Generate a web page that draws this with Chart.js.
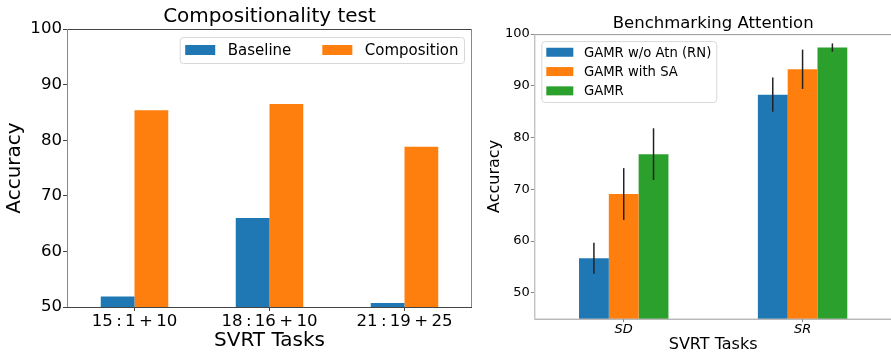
<!DOCTYPE html>
<html>
<head>
<meta charset="utf-8">
<script src="https://cdn.jsdelivr.net/npm/chart.js@4"></script>
<style>
  html, body { margin: 0; padding: 0; background: #fff; overflow: hidden; }
  body { width: 891px; height: 352px; position: relative; }
  #left_wrap { position: absolute; left: 0; top: 0; width: 480px; height: 365px; }
  #right_wrap { position: absolute; left: 480px; top: 0; width: 420px; height: 365px; }
</style>
</head>
<body>
<div id="left_wrap"><canvas id="chart_composition"></canvas></div>
<div id="right_wrap"><canvas id="chart_attention"></canvas></div>
<script>
// left chart data
var comp_tasks = ["15\u2009:\u20091\u2009+\u200910", "18\u2009:\u200916\u2009+\u200910", "21\u2009:\u200919\u2009+\u200925"];
var comp_baseline = [51.9, 66.0, 50.7];
var comp_composition = [85.4, 86.5, 78.8];
var comp_y_ticks = [50, 60, 70, 80, 90, 100];

// right chart data
var attn_tasks = ["SD", "SR"];
var attn_no_atn = [56.7, 88.3];
var attn_no_atn_err = [3.0, 3.3];
var attn_with_sa = [69.1, 93.2];
var attn_with_sa_err = [5.0, 3.8];
var attn_gamr = [76.8, 97.4];
var attn_gamr_err = [5.0, 0.8];
var attn_y_ticks = [50, 60, 70, 80, 90, 100];

var FONT = "'DejaVu Sans', sans-serif";
var C_BLUE = "#1f77b4", C_ORANGE = "#ff7f0e", C_GREEN = "#2ca02c";

Chart.defaults.font.family = FONT;
Chart.defaults.color = "#000";
Chart.defaults.animation = false;

// frame around the plot area
var frame_plugin = {
    id: 'frame',
    afterDatasetsDraw: function (chart, args, opts) {
        var a = chart.chartArea, ctx = chart.ctx;
        ctx.save();
        ctx.lineWidth = 1;
        ctx.strokeStyle = opts.hColor;
        ctx.beginPath();
        ctx.moveTo(a.left, a.top + 0.5); ctx.lineTo(a.right, a.top + 0.5);
        ctx.moveTo(a.left, a.bottom + 0.5); ctx.lineTo(a.right, a.bottom + 0.5);
        ctx.stroke();
        ctx.strokeStyle = opts.vColor;
        ctx.beginPath();
        ctx.moveTo(a.left + 0.5, a.top); ctx.lineTo(a.left + 0.5, a.bottom);
        ctx.moveTo(a.right - 0.5, a.top); ctx.lineTo(a.right - 0.5, a.bottom);
        ctx.stroke();
        ctx.restore();
    }
};

// vertical error bars, from dataset.errors
var errorbar_plugin = {
    id: 'errorbars',
    afterDatasetsDraw: function (chart) {
        var ctx = chart.ctx, y = chart.scales.y;
        ctx.save();
        ctx.strokeStyle = "#222";
        ctx.lineWidth = 1.5;
        chart.data.datasets.forEach(function (ds, i) {
            if (!ds.errors) return;
            chart.getDatasetMeta(i).data.forEach(function (bar, j) {
                var v = ds.data[j], e = ds.errors[j];
                ctx.beginPath();
                ctx.moveTo(bar.x, y.getPixelForValue(v - e));
                ctx.lineTo(bar.x, y.getPixelForValue(v + e));
                ctx.stroke();
            });
        });
        ctx.restore();
    }
};

// matplotlib-like legend inside the axes
var box_legend_plugin = {
    id: 'boxLegend',
    afterDraw: function (chart, args, o) {
        var ctx = chart.ctx, a = chart.chartArea, ds = chart.data.datasets;
        ctx.save();
        ctx.font = o.fontSize + "px " + FONT;
        var widths = ds.map(function (d) { return ctx.measureText(d.label).width; });
        var n = ds.length, w, h;
        if (o.cols > 1) {
            w = o.padX * 2 + widths.reduce(function (s, tw) { return s + o.handleW + o.textPad + tw; }, 0) + o.colGap * (n - 1);
            h = o.padY * 2 + o.rowH;
        } else {
            w = o.padX * 2 + o.handleW + o.textPad + Math.max.apply(null, widths);
            h = o.padY * 2 + o.rowH * n;
        }
        var bx = o.corner === 'ur' ? a.right - o.margin - w : a.left + o.margin;
        var by = a.top + o.margin;
        ctx.fillStyle = "rgba(255,255,255,0.8)";
        ctx.strokeStyle = "#d8d8d8";
        ctx.lineWidth = 1;
        ctx.beginPath();
        ctx.roundRect(bx + 0.5, by + 0.5, w, h, 3);
        ctx.fill();
        ctx.stroke();
        ctx.textBaseline = "middle";
        ctx.textAlign = "left";
        var x = bx + o.padX, yy = by + o.padY + o.rowH / 2;
        ds.forEach(function (d, i) {
            ctx.fillStyle = d.backgroundColor;
            ctx.fillRect(x, yy - o.handleH / 2, o.handleW, o.handleH);
            ctx.fillStyle = "#000";
            ctx.fillText(d.label, x + o.handleW + o.textPad, yy + 1);
            if (o.cols > 1) {
                x += o.handleW + o.textPad + widths[i] + o.colGap;
            } else {
                yy += o.rowH;
            }
        });
        ctx.restore();
    }
};

function fixed_ticks(values) {
    return function (scale) {
        scale.ticks = values.map(function (v) { return { value: v }; });
    };
}

function init_chart_composition() {
    var settings = {
        type: 'bar',
        data: {
            labels: comp_tasks,
            datasets: [
                { label: "Baseline", data: comp_baseline, backgroundColor: C_BLUE },
                { label: "Composition", data: comp_composition, backgroundColor: C_ORANGE }
            ]
        },
        options: {
            responsive: true,
            maintainAspectRatio: false,
            layout: { padding: { left: 0, right: 8, top: 0, bottom: 0 } },
            datasets: { bar: { categoryPercentage: 0.5, barPercentage: 1.0 } },
            plugins: {
                legend: { display: false },
                tooltip: { enabled: false },
                title: {
                    display: true,
                    fullSize: false,
                    text: "Compositionality test",
                    font: { size: 20, weight: 'normal' },
                    color: "#000",
                    padding: { top: 5, bottom: 0 }
                },
                frame: { hColor: "#444", vColor: "#888" },
                boxLegend: {
                    corner: 'ur', cols: 2, fontSize: 15, margin: 8,
                    padX: 5.5, padY: 8, rowH: 10, handleW: 30, handleH: 10,
                    textPad: 12.5, colGap: 31
                }
            },
            scales: {
                x: {
                    grid: { display: true, drawOnChartArea: false, offset: false, tickLength: 4, color: "#444" },
                    border: { display: false },
                    ticks: { font: { size: 16.6 }, color: "#000", padding: 1 },
                    title: { display: true, text: "SVRT Tasks", font: { size: 20 }, color: "#000", padding: { top: 0, bottom: 12 } },
                    afterFit: function (scale) { scale.height = 58; }
                },
                y: {
                    min: 50,
                    max: 100,
                    afterBuildTicks: fixed_ticks(comp_y_ticks),
                    grid: { display: true, drawOnChartArea: false, tickLength: 4, color: "#444" },
                    border: { display: false },
                    ticks: { font: { size: 16.6 }, color: "#000", padding: 1 },
                    title: { display: true, text: "Accuracy", font: { size: 20 }, color: "#000", padding: { top: 3, bottom: 0 } },
                    afterFit: function (scale) { scale.width = 67; }
                }
            }
        },
        plugins: [frame_plugin, box_legend_plugin]
    };
    new Chart(document.getElementById("chart_composition"), settings);
}

function init_chart_attention() {
    var settings = {
        type: 'bar',
        data: {
            labels: attn_tasks,
            datasets: [
                { label: "GAMR w/o Atn (RN)", data: attn_no_atn, errors: attn_no_atn_err, backgroundColor: C_BLUE },
                { label: "GAMR with SA", data: attn_with_sa, errors: attn_with_sa_err, backgroundColor: C_ORANGE },
                { label: "GAMR", data: attn_gamr, errors: attn_gamr_err, backgroundColor: C_GREEN }
            ]
        },
        options: {
            responsive: true,
            maintainAspectRatio: false,
            layout: { padding: { left: 0, right: 8, top: 0, bottom: 0 } },
            datasets: { bar: { categoryPercentage: 0.5, barPercentage: 1.0 } },
            plugins: {
                legend: { display: false },
                tooltip: { enabled: false },
                title: {
                    display: true,
                    fullSize: false,
                    text: "Benchmarking Attention",
                    font: { size: 16.5, weight: 'normal' },
                    color: "#000",
                    padding: { top: 14.3, bottom: 0 }
                },
                frame: { hColor: "#999", vColor: "#aaa" },
                boxLegend: {
                    corner: 'ul', cols: 1, fontSize: 13.2, margin: 7,
                    padX: 5, padY: 1.5, rowH: 19.3, handleW: 27, handleH: 9,
                    textPad: 10.7, colGap: 0
                }
            },
            scales: {
                x: {
                    grid: { display: true, drawOnChartArea: false, offset: false, tickLength: 3.5, color: "#888" },
                    border: { display: false },
                    ticks: { font: { size: 13, style: 'italic' }, color: "#000", padding: 0 },
                    title: { display: true, text: "SVRT Tasks", font: { size: 16 }, color: "#000", padding: { top: 0, bottom: 11 } },
                    afterFit: function (scale) { scale.height = 365 - 318.7; }
                },
                y: {
                    min: 45,
                    max: 100,
                    afterBuildTicks: fixed_ticks(attn_y_ticks),
                    grid: { display: true, drawOnChartArea: false, tickLength: 3.5, color: "#888" },
                    border: { display: false },
                    ticks: { font: { size: 13 }, color: "#000", padding: 1 },
                    title: { display: true, text: "Accuracy", font: { size: 16 }, color: "#000", padding: { top: 5.4, bottom: 0 } },
                    afterFit: function (scale) { scale.width = 54.3; }
                }
            }
        },
        plugins: [frame_plugin, errorbar_plugin, box_legend_plugin]
    };
    new Chart(document.getElementById("chart_attention"), settings);
}

init_chart_composition();
init_chart_attention();
</script>
</body>
</html>
